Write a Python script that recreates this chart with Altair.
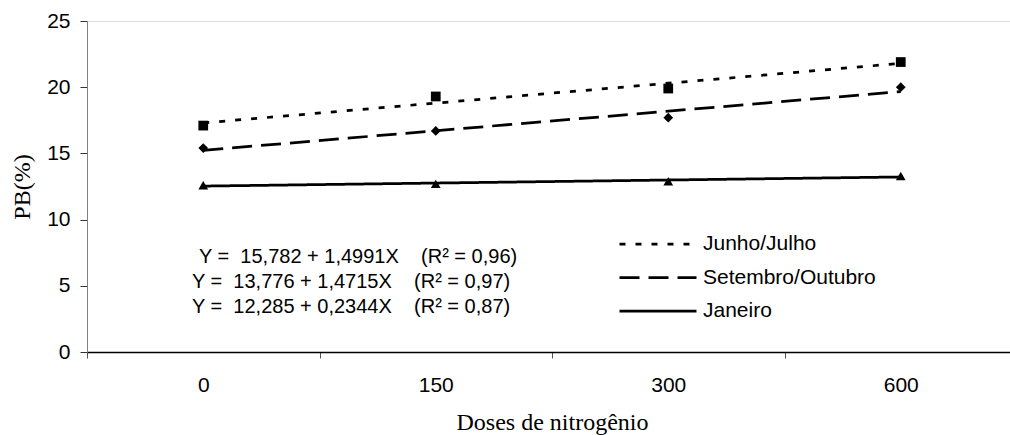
import altair as alt
import pandas as pd

# ---- data ----
doses = ["0", "150", "300", "600"]          # category labels on the x axis
indices = [1, 2, 3, 4]                       # X used in the regression equations
series = ["Junho/Julho", "Setembro/Outubro", "Janeiro"]
junho_julho = [17.1, 19.3, 19.9, 21.9]
setembro_outubro = [15.4, 16.7, 17.7, 20.0]
janeiro = [12.6, 12.7, 12.9, 13.3]
shapes = ["square", "diamond", "triangle-up"]
dashes = [[6, 10], [20, 9], [1, 0]]
NB = "\u00a0"
equations = [
    "Y =" + NB * 2 + "15,782 + 1,4991X" + NB * 4 + "(R² = 0,96)",
    "Y =" + NB * 2 + "13,776 + 1,4715X" + NB * 4 + "(R² = 0,97)",
    "Y =" + NB * 2 + "12,285 + 0,2344X" + NB * 4 + "(R² = 0,87)",
]

rows = []
for name, vals in zip(series, [junho_julho, setembro_outubro, janeiro]):
    for i, v in zip(indices, vals):
        rows.append({"serie": name, "idx": i, "pb": v})
df = pd.DataFrame(rows)

SANS = "Liberation Sans"
SERIF = "Liberation Serif"

label_expr = "[" + ",".join("'%s'" % d for d in doses) + "][datum.value - 1]"

x_enc = alt.X(
    "idx:O",
    scale=alt.Scale(type="band", domain=indices, range=[0, 930], paddingInner=0, paddingOuter=0),
    axis=alt.Axis(
        title="Doses de nitrogênio",
        titleFont=SERIF, titleFontSize=24, titleFontWeight="normal", titleColor="black",
        titlePadding=15,
        labelExpr=label_expr, labelFont=SANS, labelFontSize=21, labelColor="black",
        labelAngle=0, labelPadding=16,
        tickBand="extent", tickSize=6, tickColor="#555555",
        domainColor="black", domainWidth=1.5,
    ),
)
y_enc = alt.Y(
    "pb:Q",
    scale=alt.Scale(domain=[0, 25]),
    axis=alt.Axis(
        values=[0, 5, 10, 15, 20, 25],
        title="PB(%)",
        titleFont=SERIF, titleFontSize=24, titleFontWeight="normal", titleColor="black",
        titlePadding=12,
        labelFont=SANS, labelFontSize=21, labelColor="black", labelPadding=10,
        tickSize=7, tickColor="#333333",
        domainColor="#808080", grid=False,
    ),
)

base = alt.Chart(df)

trend = base.transform_regression(
    "idx", "pb", groupby=["serie"]
).mark_line(color="black", strokeWidth=2.75).encode(
    x=x_enc,
    y=y_enc,
    strokeDash=alt.StrokeDash(
        "serie:N",
        scale=alt.Scale(domain=series, range=dashes),
        legend=alt.Legend(
            orient="none", legendX=531, legendY=212, title=None, padding=0,
            symbolType="stroke", symbolSize=5929, symbolStrokeWidth=2.75,
            symbolStrokeColor="black",
            labelFont=SANS, labelFontSize=21, labelColor="black", labelOffset=5,
            labelLimit=400, clipHeight=22, rowPadding=11.5,
        ),
    ),
    detail="serie:N",
)

points = base.transform_calculate(grupo="datum.serie").mark_point(
    filled=True, color="black", opacity=1, size=95
).encode(
    x=x_enc,
    y=y_enc,
    shape=alt.Shape("grupo:N", scale=alt.Scale(domain=series, range=shapes), legend=None),
)

eq_x = [112, 105, 105]
eq_y = [236, 261, 286]
eq_layers = [
    alt.Chart(df).mark_text(align="left", baseline="middle", font=SANS, fontSize=20, color="black").encode(
        x=alt.value(xv), y=alt.value(yv), text=alt.value(t)
    ).transform_filter("datum.idx == 1 && datum.serie == '%s'" % series[0])
    for t, xv, yv in zip(equations, eq_x, eq_y)
]

chart = alt.layer(trend, points, *eq_layers).resolve_legend(shape="independent").properties(
    width=923, height=331,
    padding={"left": 87, "top": 21, "right": 0, "bottom": 83},
    autosize=alt.AutoSizeParams(type="none"),
).configure_view(stroke=None).configure(background="white")

chart.save("out.html", embed_options={"renderer": "svg", "actions": False})
